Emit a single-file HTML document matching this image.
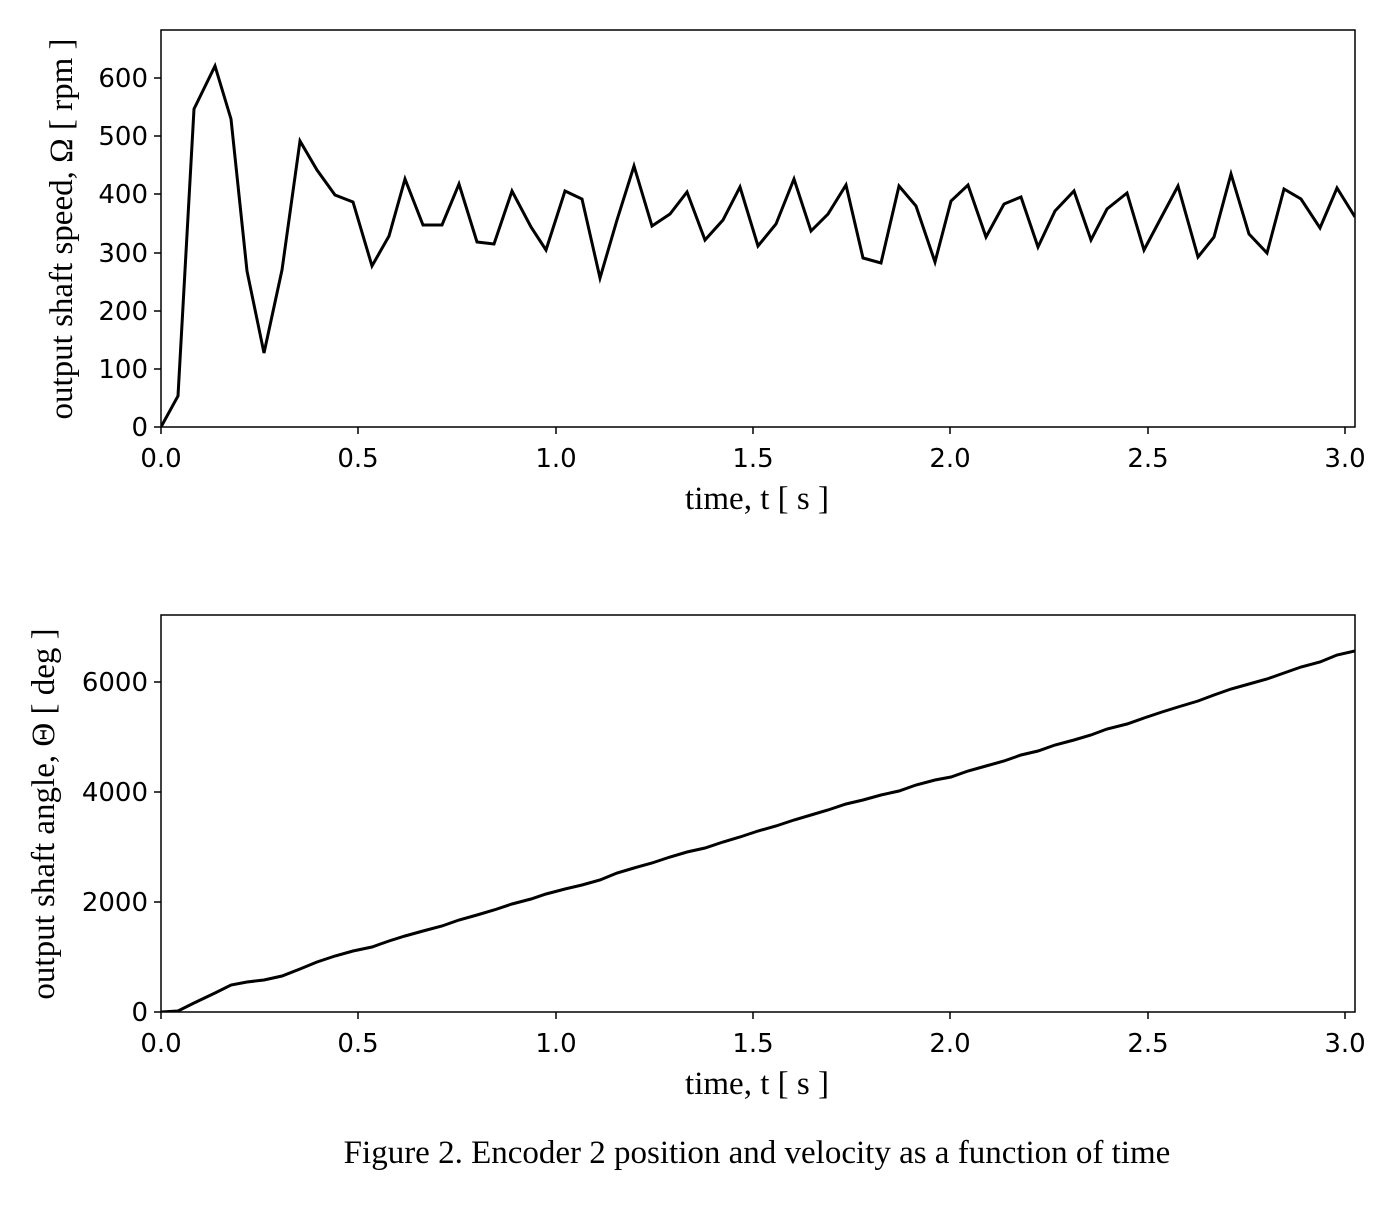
<!DOCTYPE html>
<html><head><meta charset="utf-8"><style>body{margin:0;background:#fff}</style></head><body>
<svg width="1400" height="1200" xmlns="http://www.w3.org/2000/svg" font-family="'DejaVu Sans',sans-serif">
<rect width="1400" height="1200" fill="#fff"/>
<defs><clipPath id="c1"><rect x="161" y="30" width="1194" height="397"/></clipPath><clipPath id="c2"><rect x="161" y="615" width="1194" height="397"/></clipPath></defs>
<polyline clip-path="url(#c1)" fill="none" stroke="#000" stroke-width="3" stroke-linejoin="miter" points="161,427 178,396 194,109 215,66 231,119 247,271 264,353 282,270 300,141 317,170 335,195 353,202 372,266 389,236 405,179 423,225 442,225 459,184 477,242 494,244 512,191 531,227 546,250 565,191 582,199 600,278 617,220 634,166 652,226 670,214 687,192 705,240 723,220 740,187 758,246 776,224 794,179 811,231 828,214 846,185 863,258 881,263 899,186 916,206 935,262 951,201 968,185 986,237 1004,204 1021,197 1038,247 1055,211 1074,191 1091,240 1107,209 1127,193 1144,250 1162,216 1178,186 1198,257 1214,237 1231,174 1249,234 1267,253 1284,189 1301,199 1320,228 1337,188 1355,217"/>
<rect x="161" y="30" width="1194" height="397" fill="none" stroke="#000" stroke-width="1.5"/>
<g stroke="#000" stroke-width="1.5">
<line x1="161" y1="427" x2="161" y2="434"/><line x1="358" y1="427" x2="358" y2="434"/><line x1="556" y1="427" x2="556" y2="434"/><line x1="753" y1="427" x2="753" y2="434"/><line x1="950" y1="427" x2="950" y2="434"/><line x1="1148" y1="427" x2="1148" y2="434"/><line x1="1345" y1="427" x2="1345" y2="434"/>
<line x1="154" y1="427" x2="161" y2="427"/><line x1="154" y1="369" x2="161" y2="369"/><line x1="154" y1="311" x2="161" y2="311"/><line x1="154" y1="253" x2="161" y2="253"/><line x1="154" y1="194" x2="161" y2="194"/><line x1="154" y1="136" x2="161" y2="136"/><line x1="154" y1="78" x2="161" y2="78"/>
</g>
<g font-size="26" text-anchor="middle">
<text x="161" y="467">0.0</text><text x="358" y="467">0.5</text><text x="556" y="467">1.0</text><text x="753" y="467">1.5</text><text x="950" y="467">2.0</text><text x="1148" y="467">2.5</text><text x="1345" y="467">3.0</text>
</g>
<g font-size="26" text-anchor="end">
<text x="148" y="436">0</text><text x="148" y="378">100</text><text x="148" y="320">200</text><text x="148" y="262">300</text><text x="148" y="203">400</text><text x="148" y="145">500</text><text x="148" y="87">600</text>
</g>
<text x="757" y="509" font-family="'Liberation Serif',serif" font-size="33" text-anchor="middle">time, t [ s ]</text>
<text transform="translate(72,229) rotate(-90)" font-family="'Liberation Serif',serif" font-size="33" text-anchor="middle">output shaft speed, Ω [ rpm ]</text>

<polyline clip-path="url(#c2)" fill="none" stroke="#000" stroke-width="3" points="161,1012 178,1011 194,1003 215,993 231,985 247,982 264,980 282,976 300,969 317,962 335,956 353,951 372,947 389,941 405,936 423,931 442,926 459,920 477,915 494,910 512,904 531,899 546,894 565,889 582,885 600,880 617,873 634,868 652,863 670,857 687,852 705,848 723,842 740,837 758,831 776,826 794,820 811,815 828,810 846,804 863,800 881,795 899,791 916,785 935,780 951,777 968,771 986,766 1004,761 1021,755 1038,751 1055,745 1074,740 1091,735 1107,729 1127,724 1144,718 1162,712 1178,707 1198,701 1214,695 1231,689 1249,684 1267,679 1284,673 1301,667 1320,662 1337,655 1355,651"/>
<rect x="161" y="615" width="1194" height="397" fill="none" stroke="#000" stroke-width="1.5"/>
<g stroke="#000" stroke-width="1.5">
<line x1="161" y1="1012" x2="161" y2="1019"/><line x1="358" y1="1012" x2="358" y2="1019"/><line x1="556" y1="1012" x2="556" y2="1019"/><line x1="753" y1="1012" x2="753" y2="1019"/><line x1="950" y1="1012" x2="950" y2="1019"/><line x1="1148" y1="1012" x2="1148" y2="1019"/><line x1="1345" y1="1012" x2="1345" y2="1019"/>
<line x1="154" y1="1012" x2="161" y2="1012"/><line x1="154" y1="902" x2="161" y2="902"/><line x1="154" y1="792" x2="161" y2="792"/><line x1="154" y1="682" x2="161" y2="682"/>
</g>
<g font-size="26" text-anchor="middle">
<text x="161" y="1052">0.0</text><text x="358" y="1052">0.5</text><text x="556" y="1052">1.0</text><text x="753" y="1052">1.5</text><text x="950" y="1052">2.0</text><text x="1148" y="1052">2.5</text><text x="1345" y="1052">3.0</text>
</g>
<g font-size="26" text-anchor="end">
<text x="148" y="1021">0</text><text x="148" y="911">2000</text><text x="148" y="801">4000</text><text x="148" y="691">6000</text>
</g>
<text x="757" y="1094" font-family="'Liberation Serif',serif" font-size="33" text-anchor="middle">time, t [ s ]</text>
<text transform="translate(54,814) rotate(-90)" font-family="'Liberation Serif',serif" font-size="33" text-anchor="middle">output shaft angle, Θ [ deg ]</text>
<text x="757" y="1163" font-family="'Liberation Serif',serif" font-size="33" text-anchor="middle">Figure 2. Encoder 2 position and velocity as a function of time</text>
</svg>
</body></html>
